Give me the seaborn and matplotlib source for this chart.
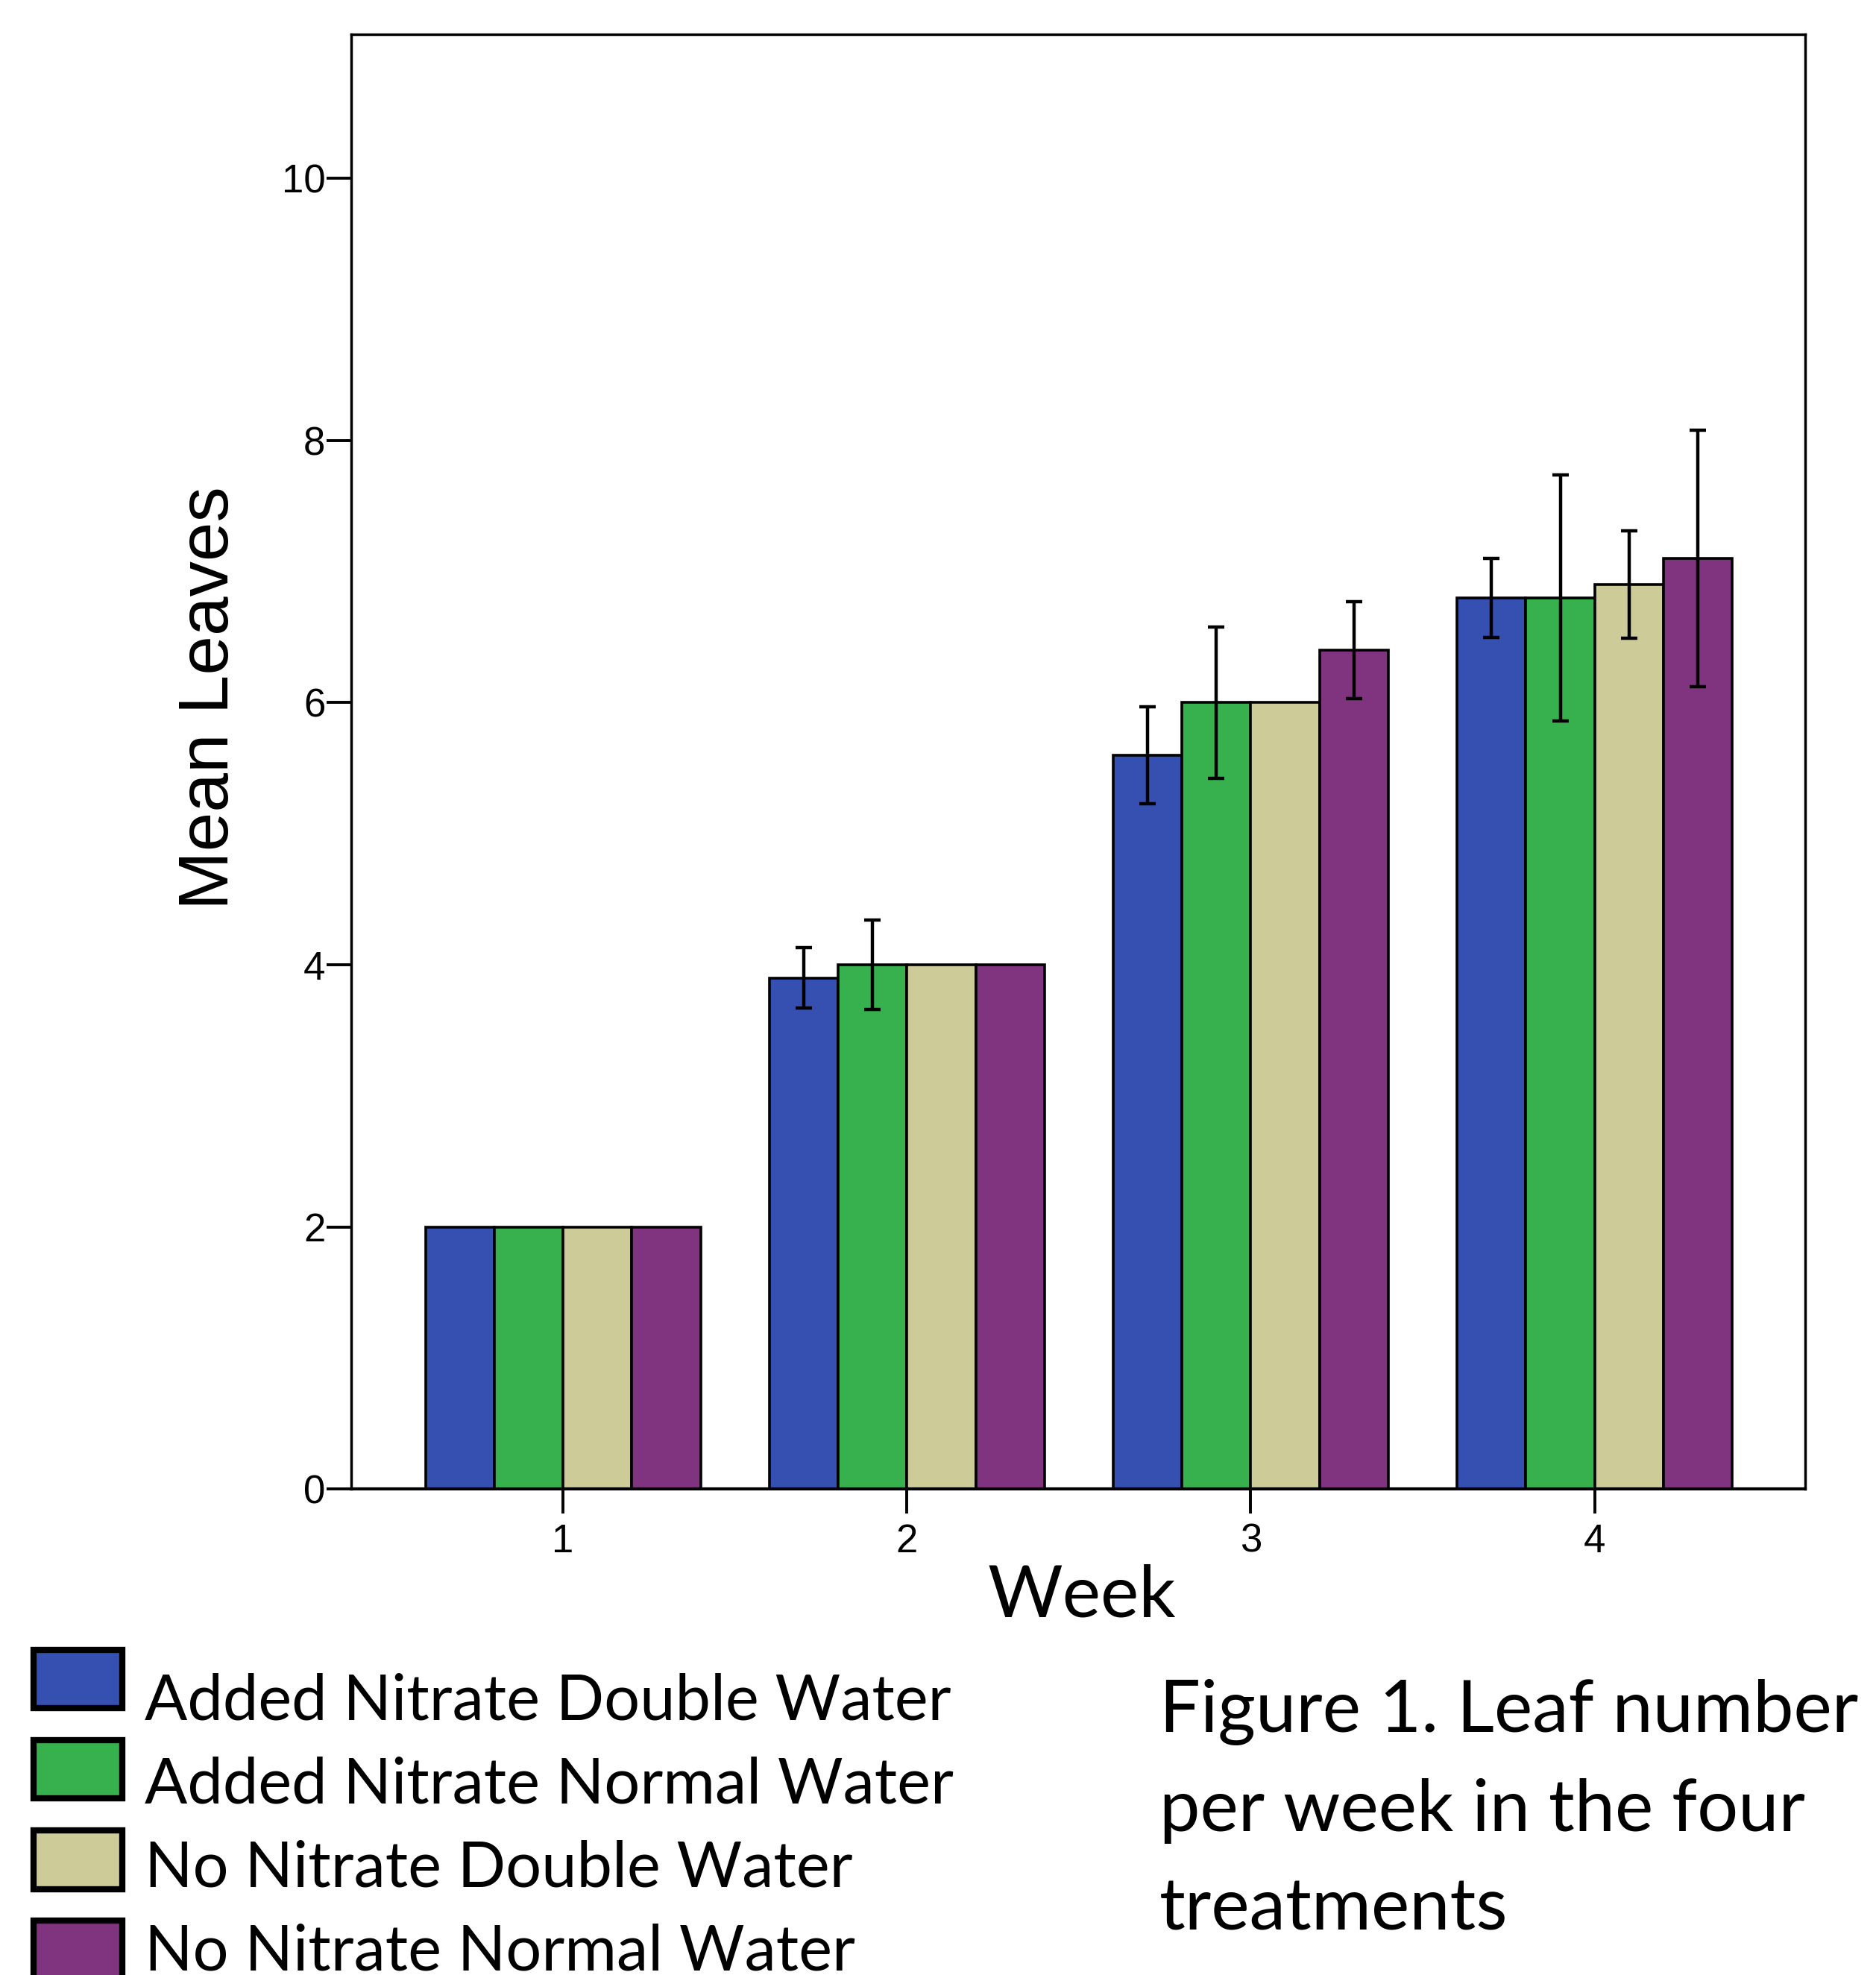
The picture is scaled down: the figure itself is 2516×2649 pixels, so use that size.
import matplotlib
matplotlib.use("Agg")
import matplotlib.pyplot as plt
import pandas as pd
import seaborn as sns

# leaf counts (mean and +/- error per week)
weeks = ["1", "2", "3", "4"]
treatments = ["Added Nitrate Double Water", "Added Nitrate Normal Water",
              "No Nitrate Double Water", "No Nitrate Normal Water"]
colors = ["#3550B1", "#36B14D", "#CDCC99", "#80347F"]

nitrate_double_mean = [2.0, 3.9, 5.6, 6.8]
nitrate_normal_mean = [2.0, 4.0, 6.0, 6.8]
no_nitrate_double_mean = [2.0, 4.0, 6.0, 6.9]
no_nitrate_normal_mean = [2.0, 4.0, 6.4, 7.1]

nitrate_double_err = [0.0, 0.23, 0.37, 0.30]
nitrate_normal_err = [0.0, 0.34, 0.58, 0.94]
no_nitrate_double_err = [0.0, 0.0, 0.0, 0.41]
no_nitrate_normal_err = [0.0, 0.0, 0.37, 0.98]

means = [nitrate_double_mean, nitrate_normal_mean, no_nitrate_double_mean, no_nitrate_normal_mean]
errs = [nitrate_double_err, nitrate_normal_err, no_nitrate_double_err, no_nitrate_normal_err]

rows = []
for t, m in zip(treatments, means):
    for w, v in zip(weeks, m):
        rows.append({"Week": w, "Treatment": t, "Mean": v})
df = pd.DataFrame(rows)

sns.set_style("ticks")
plt.rcParams["font.family"] = ["Liberation Sans", "DejaVu Sans"]
plt.rcParams["text.color"] = "black"
plt.rcParams["axes.labelcolor"] = "black"

fig = plt.figure(figsize=(25.16, 26.49), dpi=100)
ax = fig.add_axes([0.1872, 0.2461, 0.775, 0.7365])

sns.barplot(data=df, x="Week", y="Mean", hue="Treatment", order=weeks,
            hue_order=treatments, palette=colors, saturation=1, width=0.8,
            edgecolor="black", linewidth=2.6, errorbar=None, ax=ax)

# error bars on top of each bar (none where the error is zero)
for cont, err in zip(ax.containers, errs):
    for bar, e in zip(cont, err):
        if e > 0:
            cx = bar.get_x() + bar.get_width() / 2
            ax.errorbar(cx, bar.get_height(), yerr=e, fmt="none", ecolor="black",
                        elinewidth=3.2, capsize=8, capthick=3.2, zorder=5)

ax.set_ylim(0, 11.1)
ax.set_xlim(-0.616, 3.612)
ax.set_yticks([0, 2, 4, 6, 8, 10])
for s in ax.spines.values():
    s.set_linewidth(2.5)
    s.set_color("black")
ax.spines["bottom"].set_linewidth(3)
ax.tick_params(axis="both", direction="out", length=24, width=2.8, labelsize=38,
               colors="black")
ax.tick_params(axis="y", pad=1)
ax.tick_params(axis="x", pad=9)

ax.set_ylabel("Mean Leaves", fontsize=68)
ax.yaxis.set_label_coords(-0.0974, 0.544)
ax.yaxis.label.set_va("center")
ax.set_xlabel("Week", fontsize=70, fontfamily="Lato")
ax.xaxis.set_label_coords(0.5026, -0.0738)
ax.xaxis.label.set_va("center")

sns.move_legend(ax, loc="upper left", bbox_to_anchor=(0.0179, 0.1552),
                bbox_transform=fig.transFigure, frameon=False, title=None,
                prop={"family": "Lato", "size": 61}, handlelength=1.4,
                handleheight=1.05, handletextpad=0.36, labelspacing=0.34,
                borderpad=0, borderaxespad=0)
# swatches are spaced a bit wider than the labels in the original
for i, p in enumerate(ax.get_legend().get_patches()):
    p.set_edgecolor("black")
    p.set_linewidth(6)
    p.set_y(p.get_y() + 18 - 6.5 * i)

fig.text(0.618, 0.023, "Figure 1. Leaf number\nper week in the four\ntreatments",
         fontsize=70, fontfamily="Lato", ha="left", va="baseline", linespacing=1.62)

fig.savefig("out.png", dpi=100)
